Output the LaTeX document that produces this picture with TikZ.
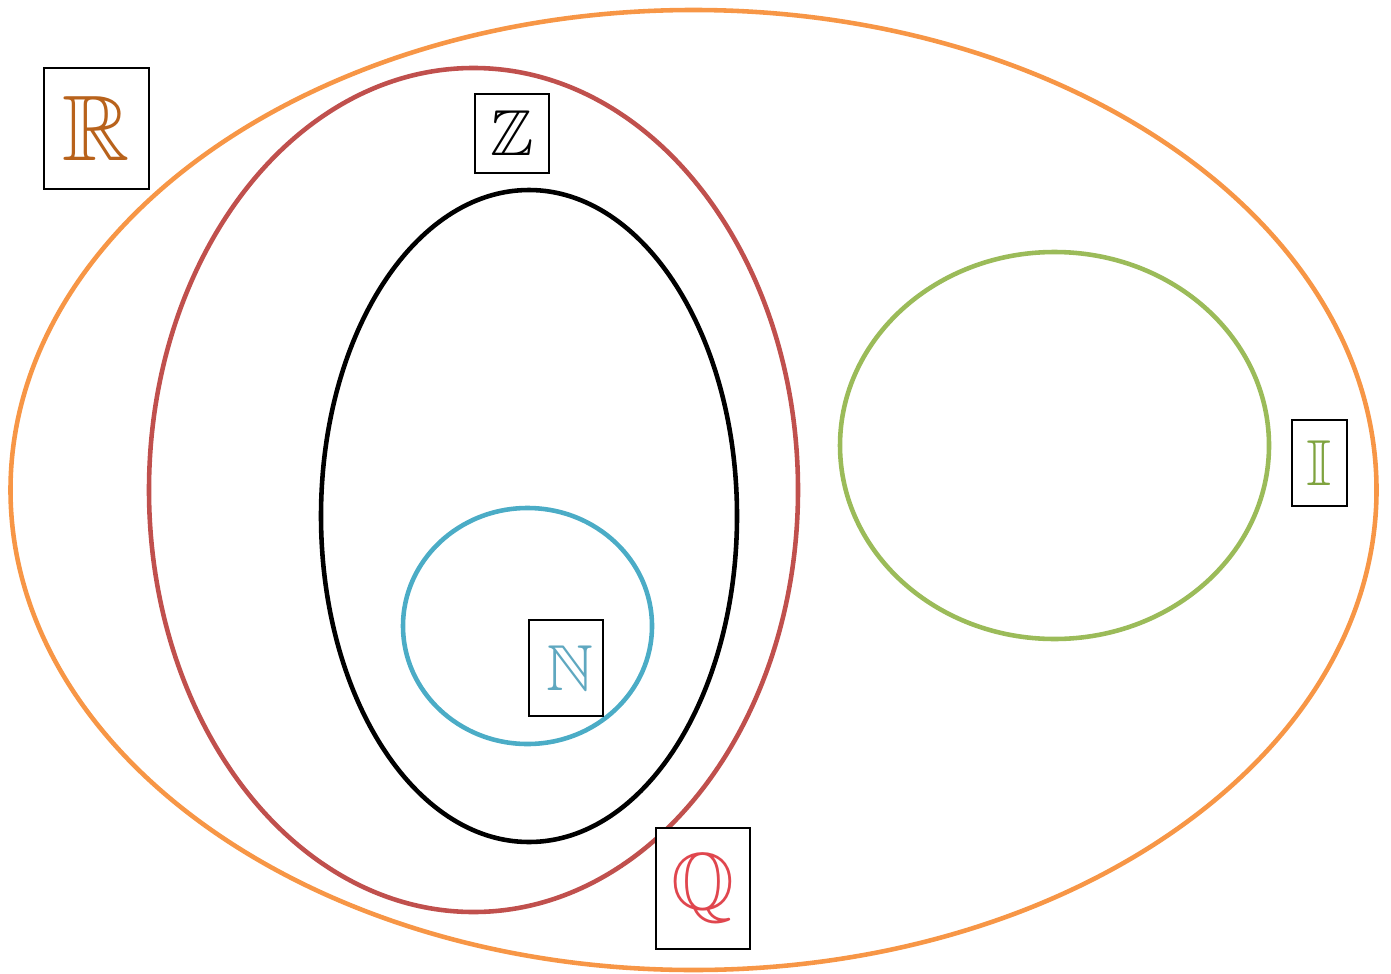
\documentclass[tikz,border=0pt]{standalone}
\usepackage{amssymb}
\usepackage{fix-cm}
\definecolor{setR}{HTML}{F79646}
\definecolor{setQ}{HTML}{C0504D}
\definecolor{setN}{HTML}{4BACC6}
\definecolor{setI}{HTML}{9BBB59}
\definecolor{letR}{HTML}{B8621B}
\definecolor{letQ}{HTML}{E0464E}
\definecolor{letN}{HTML}{5FA8C0}
\definecolor{letI}{HTML}{7FA33F}
\tikzstyle{set}=[line width=2.6pt]
\tikzstyle{label}=[rectangle,
    draw=black,
    line width=1.1pt,
    inner sep=0pt,
    fill=white]
\newcommand{\letter}[2]{\fontsize{#1}{#1}\selectfont$\mathbb{#2}$}

\begin{document}
\begin{tikzpicture}[x=0.02cm,y=-0.02cm]
    \useasboundingbox (0,0) rectangle (1391,973);
    % sets
    \draw [set,setR] (693.5,490) ellipse [x radius=683, y radius=480];
    \draw [set,setQ] (473.5,490) ellipse [x radius=324.5, y radius=422];
    \draw [set,black] (529,516) ellipse [x radius=208, y radius=326];
    \draw [set,setN] (527.5,626) ellipse [x radius=124.5, y radius=118];
    \draw [set,setI] (1054.5,445.5) ellipse [x radius=214.5, y radius=193.5];
    % labels
    \node (R) [label,minimum width=2.1cm,minimum height=2.42cm,text=letR] at (96.5,128.5) {\raisebox{-4pt}{\letter{53}{R}}};
    \node (Z) [label,minimum width=1.48cm,minimum height=1.58cm,text=black] at (512,133.5) {\raisebox{-4pt}{\letter{37}{Z}}};
    \node (N) [label,minimum width=1.48cm,minimum height=1.92cm,text=letN] at (566,668) {\hspace{4pt}\letter{37}{N}};
    \node (Q) [label,minimum width=1.88cm,minimum height=2.42cm,text=letQ] at (703,888.5) {\letter{46}{Q}};
    \node (I) [label,minimum width=1.1cm,minimum height=1.72cm,text=letI] at (1319.5,463) {\raisebox{-3pt}{\letter{37}{I}}};
\end{tikzpicture}
\end{document}
